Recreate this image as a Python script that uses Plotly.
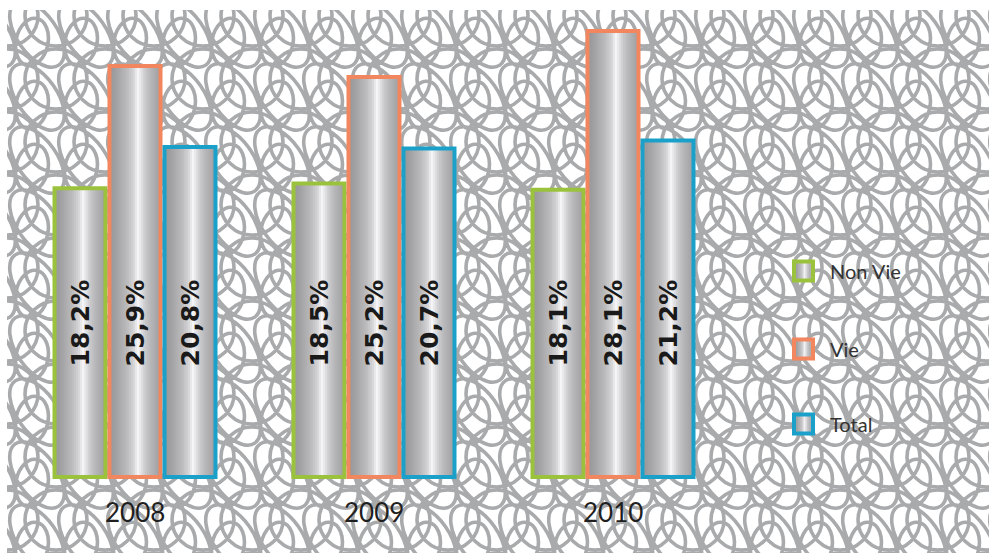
import math
import plotly.graph_objects as go

# ---- data -------------------------------------------------------------
years = ["2008", "2009", "2010"]
series_names = ["Non Vie", "Vie", "Total"]
non_vie = [18.2, 18.5, 18.1]
vie = [25.9, 25.2, 28.1]
total = [20.8, 20.7, 21.2]
series_values = [non_vie, vie, total]
series_colors = ["#9bc23d", "#f2875f", "#1ba1c9"]

# ---- geometry (pixels) --------------------------------------------------
W, H = 992, 553
GROUP_PX = 239        # distance between year groups
FIRST_PX = 135        # centre of the first group
PITCH_PX = 55         # bar pitch inside a group
LINE_PX = 4           # outline thickness
BASE_PX = 477         # pixel row of the value 0
PX_PER_UNIT = 15.87   # pixels per percentage point

x_range = [-FIRST_PX / GROUP_PX, (W - FIRST_PX) / GROUP_PX]
y_range = [-(H - BASE_PX) / PX_PER_UNIT, BASE_PX / PX_PER_UNIT]

# brushed-metal gradient across a bar (position 0..1 -> grey level)
METAL = [(0.0, 150), (0.15, 163), (0.35, 188), (0.47, 212), (0.56, 246),
         (0.62, 226), (0.72, 196), (0.87, 174), (1.0, 158)]


def metal_grey(t):
    for (t0, g0), (t1, g1) in zip(METAL[:-1], METAL[1:]):
        if t <= t1:
            g = g0 + (g1 - g0) * (t - t0) / (t1 - t0)
            break
    else:
        g = METAL[-1][1]
    g = int(round(g))
    return f"rgb({g},{g},{min(255, g + 2)})"


def px_x(px):
    return px / W


def px_y(py):
    return 1 - py / H


fig = go.Figure()

x_pos = list(range(len(years)))
N_STRIPS = 26
bar_w_px = PITCH_PX - LINE_PX

for k, (name, vals, col) in enumerate(zip(series_names, series_values, series_colors)):
    left_px = -1.5 * PITCH_PX + k * PITCH_PX + LINE_PX / 2
    # metallic fill, built from nested strips (each covers up to the right edge)
    for i in range(N_STRIPS):
        t = i / N_STRIPS
        fig.add_trace(go.Bar(
            x=x_pos, y=vals,
            offset=(left_px + t * bar_w_px) / GROUP_PX,
            width=bar_w_px * (1 - t) / GROUP_PX,
            marker=dict(color=metal_grey(t + 0.5 / N_STRIPS), line=dict(width=0)),
            hoverinfo="skip", showlegend=False,
        ))
    # coloured outline
    fig.add_trace(go.Bar(
        x=x_pos, y=vals, name=name,
        offset=left_px / GROUP_PX,
        width=bar_w_px / GROUP_PX,
        marker=dict(color="rgba(0,0,0,0)", line=dict(color=col, width=LINE_PX)),
        showlegend=False,
    ))
    # value labels, written vertically inside the bars
    for xi, v in zip(x_pos, vals):
        fig.add_annotation(
            x=xi + (left_px + bar_w_px / 2) / GROUP_PX, xref="x",
            y=px_y(323.5), yref="paper", yanchor="middle", xanchor="center",
            text=f"{v:.1f}".replace(".", ",") + "%",
            textangle=-90, showarrow=False,
            font=dict(family="DejaVu Sans", size=25, color="#1a1a1a", weight="bold"),
        )

# year labels under each group
for xi, yr in zip(x_pos, years):
    fig.add_annotation(
        x=xi, xref="x", y=px_y(512), yref="paper", yanchor="middle",
        text=yr, showarrow=False,
        font=dict(family="Lato", size=26, color="#1f1f1f"),
    )

# ---- decorative loop pattern behind the chart ---------------------------
KAPPA = 0.5523
UNIT_CIRCLE = [
    [(1, KAPPA), (KAPPA, 1), (0, 1)],
    [(-KAPPA, 1), (-1, KAPPA), (-1, 0)],
    [(-1, -KAPPA), (-KAPPA, -1), (0, -1)],
    [(KAPPA, -1), (1, -KAPPA), (1, 0)],
]


def ellipse_path(cx, cy, rx, ry, rot_deg):
    a = math.radians(rot_deg)
    ca, sa = math.cos(a), math.sin(a)

    def tr(u, v):
        x = cx + rx * u * ca - ry * v * sa
        y = cy + rx * u * sa + ry * v * ca
        return f"{px_x(x):.5f},{px_y(y):.5f}"

    parts = ["M" + tr(1, 0)]
    for seg in UNIT_CIRCLE:
        parts.append("C" + " ".join(tr(u, v) for u, v in seg))
    parts.append("Z")
    return "".join(parts)


CELL_W, CELL_H = 49, 63
ORIGIN_X, ORIGIN_Y = 7, 10
loops = []
for j in range(-1, 10):
    for i in range(-1, 22):
        ox = ORIGIN_X + i * CELL_W
        oy = ORIGIN_Y + j * CELL_H
        loops.append(ellipse_path(ox + 25, oy + 32, 16, 24, 12))
        loops.append(ellipse_path(ox + 30, oy + 24, 20, 38, -35))
        loops.append(ellipse_path(ox, oy + 6, 31, 30, 0))

shapes = [dict(type="path", xref="paper", yref="paper", path=" ".join(loops),
               line=dict(color="#a9aaac", width=3.6), fillcolor="rgba(0,0,0,0)",
               layer="below")]
# clean white border round the pattern
for x0, y0, x1, y1 in [(0, 0, W, ORIGIN_Y), (0, 0, ORIGIN_X, H), (989, 0, W, H)]:
    shapes.append(dict(type="rect", xref="paper", yref="paper",
                       x0=px_x(x0), x1=px_x(x1), y0=px_y(y1), y1=px_y(y0),
                       fillcolor="white", line=dict(width=0), layer="below"))

# ---- legend: metal squares with coloured frames ---------------------------
LEG_X0, LEG_SIZE = 792, 23
leg_centres = [271, 349, 424]
for name, col, cy in zip(series_names, series_colors, leg_centres):
    top = cy - LEG_SIZE / 2
    inner = LEG_SIZE - LINE_PX
    for i in range(10):
        t = i / 10
        shapes.append(dict(type="rect", xref="paper", yref="paper",
                           x0=px_x(LEG_X0 + LINE_PX / 2 + t * inner),
                           x1=px_x(LEG_X0 + LINE_PX / 2 + inner),
                           y0=px_y(top + LINE_PX / 2 + inner), y1=px_y(top + LINE_PX / 2),
                           fillcolor=metal_grey(t + 0.05), line=dict(width=0)))
    shapes.append(dict(type="rect", xref="paper", yref="paper",
                       x0=px_x(LEG_X0 + LINE_PX / 2), x1=px_x(LEG_X0 + LINE_PX / 2 + inner),
                       y0=px_y(top + LINE_PX / 2 + inner), y1=px_y(top + LINE_PX / 2),
                       fillcolor="rgba(0,0,0,0)", line=dict(color=col, width=LINE_PX)))
    fig.add_annotation(x=px_x(828), xref="paper", y=px_y(cy), yref="paper",
                       text=name, showarrow=False, xanchor="left", yanchor="middle",
                       font=dict(family="Lato", size=20, color="#333333"))

fig.update_layout(
    width=W, height=H,
    margin=dict(l=0, r=0, t=0, b=0),
    barmode="overlay",
    plot_bgcolor="white", paper_bgcolor="white",
    xaxis=dict(range=x_range, visible=False, fixedrange=True),
    yaxis=dict(range=y_range, visible=False, fixedrange=True),
    shapes=shapes,
    showlegend=False,
)

fig.write_html("out.html")
